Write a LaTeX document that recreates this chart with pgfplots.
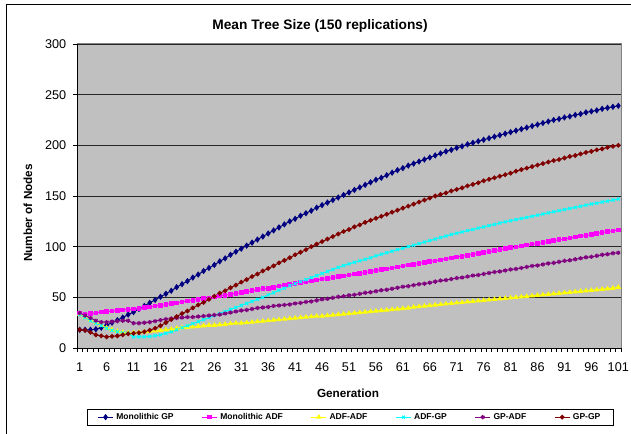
\documentclass[border=0pt]{standalone}
\usepackage{fontspec}
\setmainfont{Liberation Sans}
\usepackage{pgfplots}
\usepackage{pgfplotstable}
\pgfplotsset{compat=1.18}
\definecolor{plotbg}{HTML}{C0C0C0}
\definecolor{cnavy}{HTML}{000080}
\definecolor{cmag}{HTML}{FF00FF}
\definecolor{cyel}{HTML}{FFFF00}
\definecolor{ccyan}{HTML}{00FFFF}
\definecolor{cpur}{HTML}{800080}
\definecolor{cdred}{HTML}{800000}
\pgfplotstableread{
gen mgp madf aa ag ga gg
1 18 34 33 33 34.5 18
2 18 33.5 30 30 32 17.5
3 18 34 27.5 27 29.5 15.5
4 18.5 34.5 25 24.5 27 13
5 20 35.5 22.5 22 25.5 12
6 22.5 36 20 19.5 25.5 11
7 25 36.5 18 17.5 26 11.5
8 27.5 37 16.5 16 26.5 12
9 30 37.5 15.5 15 27 13
10 33 38 15 14.5 27 14
11 35.5 38.5 15 11 24.5 14.5
12 38.5 39 15.5 11 24.5 15
13 41.5 40 16 11 25 16
14 44.5 40.5 16.5 11.5 25.5 17.5
15 47.5 41.5 17 12 26.5 19.5
16 50.5 42 17.5 13 27.5 22
17 53.5 43 18 14.5 28.5 25
18 56.5 44 18.5 16 29 28
19 60 44.5 19.5 18 29.5 31
20 63 45.5 20 20 30 34
21 66 46.5 20.5 22 30.5 36.5
22 69.5 47 21 24 30.5 39.5
23 72.5 48 21.5 26 31 42.5
24 76 49 22 28 31.5 45
25 79 49.5 22.5 30 32 48
26 82 50.5 22.5 32 32.5 51
27 85.5 51.5 23 34 33 54
28 88.5 52 23.5 36 34 56.5
29 92 53 24 38 35 59.5
30 95 54 24.5 40 36 62
31 98 54.5 24.5 42 37 65
32 101 55.5 25 44 37.5 67.5
33 104 56.5 25.5 46 38.5 70.5
34 107 57.5 26 48 39.5 73
35 110 58.5 26.5 50 40 76
36 113 59 27 52.3 40.5 78.5
37 116 60 27.5 54.6 41.5 81
38 119 61 28 57 42 84
39 122 62 28.5 59 42.5 86.5
40 125 62.5 29 61.5 43 89
41 127.5 63.5 29.5 63.5 44 92
42 130.5 64.5 30 65.5 44.5 94.5
43 133 65 30.5 67.5 45.5 97
44 135.5 66 31 69.5 46 100
45 138.5 67 31.5 71.5 47 102.5
46 141 68 31.5 73.5 48 105
47 143.5 68.5 32 75.5 48.5 107.5
48 146 69.5 32.5 77.5 49.5 110
49 148.5 70.5 33 79.5 50.5 112.5
50 151 71 33.5 81.5 51 115
51 153.5 72 34 83 52 117
52 156 73 34.5 84.5 52.5 119.5
53 158.5 73.5 35 86 53.5 121.5
54 161 74.5 35.5 87.5 54.5 124
55 163.5 75.5 36 89 55 126
56 166 76.5 36.5 91 56 128
57 168 77.5 37 92.5 57 130
58 170.5 78 37.5 94 57.5 132
59 173 79 38 95.5 58.5 134
60 175.5 80 38.5 97 59.5 136
61 177.5 81 39 98.5 60.5 138
62 180 82 39.5 100 61 140
63 182 82.5 40.5 101.5 62 142
64 184 83.5 41 103 63 144
65 186 84.5 41.5 104.5 63.5 146
66 188 85.5 42 106 64.5 148
67 190 86 42.5 107.5 65.5 150
68 192 87 43 109 66.5 151.5
69 194 88 43.5 110.5 67 153
70 195.5 89 44 112 68 155
71 197.5 90 44.5 113.3 69 156.5
72 199 90.5 45 114.5 69.5 158
73 201 91.5 45.5 115.8 70.5 160
74 202.5 92.5 46 117 71.5 161.5
75 204 93.5 46.5 118.3 72 163
76 205.5 94.5 47 119.5 73 165
77 207 95 47.5 120.8 74 166.5
78 208.5 96 48 122 75 168
79 210 97 48.5 123.3 75.5 169.5
80 211.5 98 49 124.5 76.5 171
81 213 99 49.5 125.6 77.5 172.5
82 214.5 99.5 50 126.7 78 174.5
83 216 100.5 50.5 127.8 79 176
84 217.5 101.5 51 128.9 80 177.5
85 219 102.5 51.5 130 81 179
86 220.5 103 52 131.1 81.5 180.5
87 222 104 52.5 132.2 82.5 182
88 223.5 105 53 133.3 83.5 183.5
89 225 106 53.5 134.4 84 185
90 226 107 54 135.5 85 186
91 227.5 107.5 54.5 136.6 86 187.5
92 228.5 108.5 55 137.7 86.5 189
93 230 109.5 55.5 138.8 87.5 190
94 231 110.5 56 139.9 88.5 191.5
95 232.5 111 56.5 141 89.5 193
96 233.5 112 57 142 90 194
97 234.5 113 57.5 143 91 195.5
98 236 114 58 144 92 196.5
99 237 115 58.5 145 92.5 198
100 238 115.5 59 146 93.5 199
101 239 116.5 60 147 94 200
}\data
\begin{document}
\begin{tikzpicture}
\useasboundingbox (0,0) rectangle (473.25pt,-325.5pt);
\fill[white] (0,0) rectangle (473.25pt,-325.5pt);
\draw[black, line width=0.75pt] (4.5pt,-326pt) -- (4.5pt,-3.75pt) -- (474pt,-3.75pt);
\begin{axis}[
  at={(57.75pt,-261pt)}, anchor=south west,
  scale only axis, width=408pt, height=228pt,
  xmin=0.5, xmax=101.5, ymin=0, ymax=300,
  clip=false,
  axis background/.style={fill=plotbg},
  axis line style={draw=none},
  xtick={0.5,1.5,...,101.5}, xticklabels={},
  extra x ticks={1,6,...,101},
  extra x tick style={major tick length=0pt, tick label style={yshift=-7.5pt}},
  ytick={0,50,...,300},
  yticklabel style={xshift=-1.5pt},
  xtick pos=bottom, ytick pos=left,
  tick align=outside, major tick length=3pt,
  tick style={black, line width=0.6pt},
  ymajorgrids=true,
  major grid style={black!85, line width=0.7pt},
  tick label style={font=\fontsize{9.5}{11}\selectfont},
  /pgf/number format/assume math mode=true,
  legend columns=6,
  legend style={at={(axis description cs:0.0178,-0.2)}, anchor=north west,
    draw=black, font=\fontsize{6.4}{7.5}\selectfont\bfseries,
    /tikz/every even column/.append style={column sep=19pt},
    inner xsep=8pt, inner ysep=1pt},
  legend image code/.code={\draw[mark repeat=2,mark phase=2] plot coordinates {(0pt,0pt) (5.6pt,0pt) (11.25pt,0pt)};},
]
\addplot[cnavy, line width=0.75pt, mark=diamond*, mark size=1.8pt, mark options={solid}] table[x=gen,y=mgp] {\data};
\addlegendentry{Monolithic GP}
\addplot[cmag, line width=0.75pt, mark=square*, mark size=1.35pt] table[x=gen,y=madf] {\data};
\addlegendentry{Monolithic ADF}
\addplot[cyel, line width=0.75pt, mark=triangle*, mark size=1.6pt] table[x=gen,y=aa] {\data};
\addlegendentry{ADF-ADF}
\addplot[ccyan, line width=0.75pt, mark=x, mark size=1.6pt, mark options={line width=0.8pt}] table[x=gen,y=ag] {\data};
\addlegendentry{ADF-GP}
\addplot[cpur, line width=0.75pt, mark=asterisk, mark size=1.6pt, mark options={line width=0.9pt}] table[x=gen,y=ga] {\data};
\addlegendentry{GP-ADF}
\addplot[cdred, line width=0.75pt, mark=*, mark size=1.4pt] table[x=gen,y=gg] {\data};
\addlegendentry{GP-GP}
\draw[gray, line width=0.75pt] (rel axis cs:0,1) -- (rel axis cs:1,1) -- (rel axis cs:1,0);
\draw[black, line width=0.75pt] (rel axis cs:0,1) -- (rel axis cs:0,0) -- (rel axis cs:1,0);
\end{axis}
\node[font=\fontsize{10.3}{12}\selectfont\bfseries] at (240pt,-19.5pt) {Mean Tree Size (150 replications)};
\node[font=\fontsize{8.8}{10}\selectfont\bfseries, rotate=90] at (21pt,-159.75pt) {Number of Nodes};
\node[font=\fontsize{8.8}{10}\selectfont\bfseries] at (261pt,-294.75pt) {Generation};
\end{tikzpicture}
\end{document}
